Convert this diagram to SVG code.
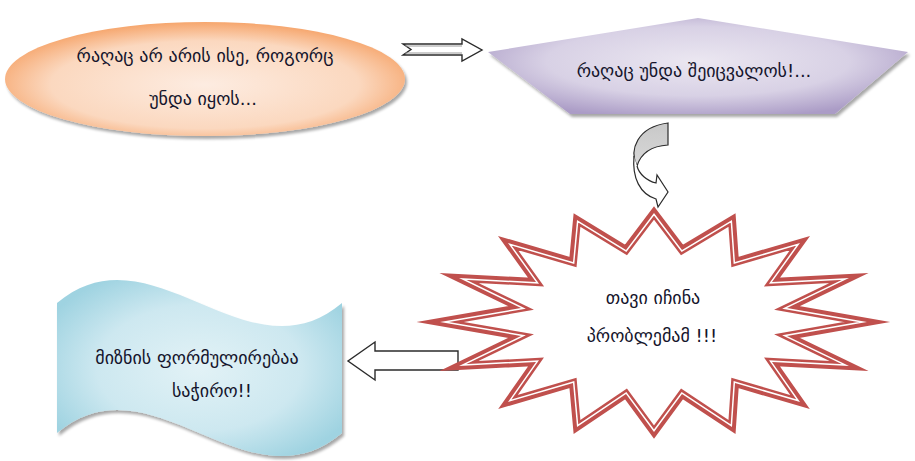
<svg xmlns="http://www.w3.org/2000/svg" width="915" height="461" viewBox="0 0 915 461">
  <defs>
    <style>
      .lbl { font-family: "DejaVu Sans", "Noto Sans", sans-serif; font-size: 18px; fill: #15152c; text-anchor: middle; dominant-baseline: central; }
      .blk { fill: #ffffff; stroke: #2b2b2b; stroke-width: 1.4; stroke-linejoin: miter; }
    </style>
    <radialGradient id="gOrange" cx="0.5" cy="0.55" r="0.55">
      <stop offset="0" stop-color="#fdece1"/>
      <stop offset="0.7" stop-color="#fbd8bf"/>
      <stop offset="1" stop-color="#f6a66d"/>
    </radialGradient>
    <radialGradient id="gPurple" cx="0.5" cy="0.45" r="0.6">
      <stop offset="0" stop-color="#ebe7f1"/>
      <stop offset="0.6" stop-color="#d8d1e5"/>
      <stop offset="1" stop-color="#ab9cc6"/>
    </radialGradient>
    <radialGradient id="gBlue" cx="0.5" cy="0.5" r="0.6">
      <stop offset="0" stop-color="#e2f2f6"/>
      <stop offset="0.6" stop-color="#cde8f0"/>
      <stop offset="1" stop-color="#9fd3e1"/>
    </radialGradient>
    <linearGradient id="gGrey" x1="0" y1="0" x2="0" y2="1">
      <stop offset="0" stop-color="#c8c8c8"/>
      <stop offset="1" stop-color="#d8d8d8"/>
    </linearGradient>
    <filter id="shadow" x="-10%" y="-10%" width="125%" height="135%">
      <feGaussianBlur in="SourceAlpha" stdDeviation="1.8"/>
      <feOffset dx="1.5" dy="3" result="off"/>
      <feComponentTransfer><feFuncA type="linear" slope="0.35"/></feComponentTransfer>
      <feMerge><feMergeNode/><feMergeNode in="SourceGraphic"/></feMerge>
    </filter>
    <clipPath id="starClip">
      <polygon id="starPts" points="654,213 682,250 732,220 735,262 800,243 772,282 849,278 787,308 867,322 787,336 849,366 772,362 800,402 735,383 732,427 682,394 654,432 626,394 577,427 573,383 508,402 536,362 459,366 521,336 440,322 521,308 459,278 536,282 508,243 573,262 577,220 626,250"/>
    </clipPath>
  </defs>

  <!-- connectors -->
  <g id="connectors">
    <!-- notched block arrow: ellipse to pentagon -->
    <polygon class="blk" points="403,44 462,44 462,39 482,50 462,61 462,55 403,55 411,49.5"/>
    <line x1="405" y1="46" x2="462" y2="46" stroke="#9a9a9a" stroke-width="1"/>
    <line x1="405" y1="53" x2="462" y2="53" stroke="#9a9a9a" stroke-width="1"/>
    <!-- curved arrow: pentagon to burst -->
    <path d="M668,123 L668,145 C652,146 641,153 637,166 C629,150 637,127 668,123 Z" fill="url(#gGrey)" stroke="#2b2b2b" stroke-width="1.2"/>
    <path d="M634,156 C632,178 640,194 656,199 L658,207 L668,192 L657,175 L656,183 C647,181 639,174 637,166" fill="#ffffff" stroke="#2b2b2b" stroke-width="1.2" stroke-linejoin="miter"/>
    <!-- block arrow: burst to wave -->
    <polygon class="blk" points="458,351 375,351 375,342 348,361 375,380 375,370 458,370"/>
  </g>

  <!-- ellipse node -->
  <g id="node-problem">
    <ellipse cx="205" cy="79" rx="200" ry="57" fill="url(#gOrange)" filter="url(#shadow)"/>
    <text class="lbl" x="205" y="55">რაღაც არ არის ისე, როგორც</text>
    <text class="lbl" x="203" y="98">უნდა იყოს...</text>
  </g>

  <!-- pentagon node -->
  <g id="node-change">
    <polygon points="488,52 698,18 908,52 835,114 570,114" fill="url(#gPurple)" filter="url(#shadow)"/>
    <text class="lbl" x="694" y="70">რაღაც უნდა შეიცვალოს!...</text>
  </g>

  <!-- burst node -->
  <g id="node-burst">
    <use href="#starPts" fill="#ffffff" stroke="#c0504d" stroke-width="8" stroke-linejoin="miter" stroke-miterlimit="12"/>
    <use href="#starPts" fill="none" stroke="#ffffff" stroke-width="3" stroke-linejoin="miter" stroke-miterlimit="12" clip-path="url(#starClip)"/>
    <text class="lbl" x="653" y="297">თავი იჩინა</text>
    <text class="lbl" x="652" y="335">პრობლემამ !!!</text>
  </g>

  <!-- wave node -->
  <g id="node-goal">
    <path d="M57,303 C152,223 247,383 342,303 L342,433 C247,513 152,353 57,433 Z" fill="url(#gBlue)" filter="url(#shadow)"/>
    <text class="lbl" x="197" y="357">მიზნის ფორმულირებაა</text>
    <text class="lbl" x="212" y="390">საჭირო!!</text>
  </g>
</svg>
